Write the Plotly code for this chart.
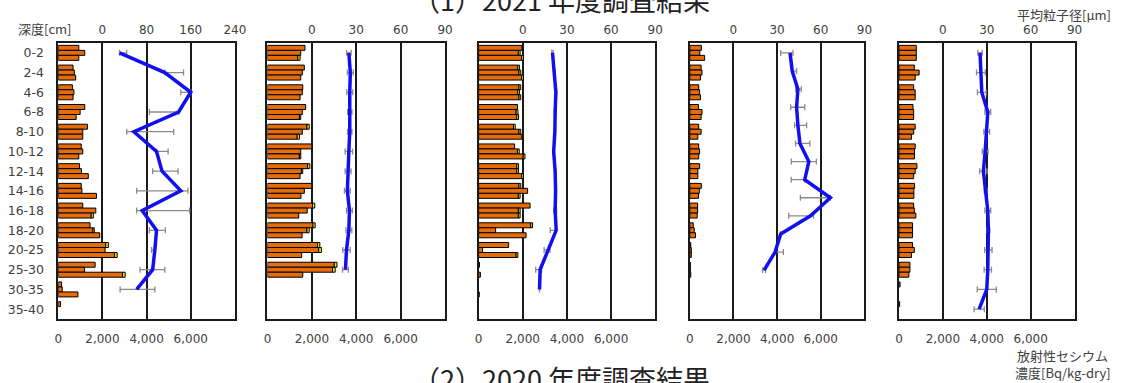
import plotly.graph_objects as go

W, H = 1129, 383

depths = ["0-2", "2-4", "4-6", "6-8", "8-10", "10-12", "12-14", "14-16",
          "16-18", "18-20", "20-25", "25-30", "30-35", "35-40"]

# ---- radiocesium concentration [Bq/kg-dry], three replicate cores per depth
# orange = main part, yellow = small end segment
p1_r1 = [930, 670, 640, 1200, 1320, 1040, 960, 1040, 1110, 1440, 2150, 1670, 150, 100]
p1_r2 = [1200, 730, 710, 990, 1110, 1110, 1050, 1070, 1700, 1570, 2120, 1190, 180, None]
p1_r3 = [930, 790, 670, 810, 1110, 930, 1360, 1730, 1490, 1880, 2550, 2910, 890, None]
p1_y1 = [None, None, None, None, None, None, None, None, None, None, 120, None, None, None]
p1_y2 = [None, None, None, None, None, None, None, None, None, 60, None, None, None, None]
p1_y3 = [None, None, None, None, None, None, None, None, 100, None, 120, 120, None, None]

p2_r1 = [1690, 1660, 1590, 1720, 1780, 2000, 1810, 2000, 2030, 2050, 2260, 3010, None, None]
p2_r2 = [1500, 1570, 1570, 1570, 1570, 1500, 1530, 1660, 1790, 1780, 2310, 2930, None, None]
p2_r3 = [1370, 1500, 1470, 1440, 1340, 1440, 1470, 1510, 1410, 1560, 1540, 1590, None, None]
p2_y1 = [None, None, None, None, 100, None, 100, None, 100, 100, 100, 120, None, None]
p2_y2 = [None, None, None, None, None, None, 60, None, None, 100, 120, 120, None, None]
p2_y3 = [100, None, None, 60, 100, 60, None, None, None, None, None, None, None, None]

p3_r1 = [1960, 1770, 1830, 1760, 1580, 1630, 1730, 1830, 2330, 2360, 1360, 40, None, None]
p3_r2 = [1800, 1830, 1770, 1700, 1830, 1760, 1730, 2220, 1800, 770, 180, None, None, None]
p3_r3 = [1950, 1950, 1830, 1730, 1960, 2020, 1950, 1800, 1800, 2150, 1700, 80, 30, None]
p3_y1 = [None, 80, 80, None, 80, None, 80, 80, None, 80, None, None, None, None]
p3_y2 = [80, 80, 80, 80, 80, 80, 80, None, 80, None, None, None, None, None]
p3_y3 = [80, 80, 80, 80, None, 80, 80, 80, 80, None, 80, None, None, None]

p4_r1 = [530, 520, 410, 400, 410, 410, 450, 530, 360, 160, 45, 25, None, None]
p4_r2 = [460, 560, 450, 560, 520, 450, 370, 440, 360, 205, 70, 25, None, None]
p4_r3 = [680, 490, 490, 520, 370, 410, 370, 400, 340, 265, 70, 45, None, None]

p5_r1 = [790, 700, 670, 640, 740, 740, 820, 710, 670, 620, 620, 500, 50, 30]
p5_r2 = [790, 920, 740, 670, 670, 710, 740, 680, 700, 620, 700, 500, None, None]
p5_r3 = [790, 740, 740, 670, 570, 710, 670, 680, 770, 620, 570, 450, None, None]

# ---- mean particle size [um] with error whiskers
p1_size = [31, 113, 160, 138, 57, 98, 108, 142, 72, 98, 95, 91, 62]
p1_plus = [13, 34, 0, 0, 72, 21, 29, 13, 86, 16, 0, 22, 33]
p1_minus = [0, 0, 18, 53, 13, 0, 17, 80, 10, 13, 6, 23, 30]

p2_size = [25, 26, 25.6, 25.6, 25.6, 25, 24.5, 24, 25.4, 25, 23.4, 22.7]
p2_err = [1.5, 2, 2, 1.5, 1.5, 2.5, 2, 2, 2, 2, 2.5, 2]

p3_size = [20.2, 21.6, 22.5, 22, 21.8, 21, 22, 22.3, 22, 22.7, 17.5, 11.8, 11.4]
p3_plus = [0.5, 0.5, 0.5, 0.5, 0.5, 0.5, 0.5, 0.5, 1, 0, 1, 1, 0]
p3_minus = [0.5, 0.5, 0.5, 0.5, 0.5, 0.5, 0.5, 0.5, 1, 4, 3, 3, 0]

p4_size = [38.9, 40.4, 44.3, 43.4, 44.3, 45.7, 51.8, 49, 66.6, 53, 32.5, 28.6, 21.1]
p4_plus = [2, 3, 2.3, 5.6, 6, 6.8, 5.2, 0, 0, 2, 0, 5.7, 1]
p4_minus = [6.4, 0, 1.6, 4.1, 2.3, 3, 12, 9.3, 20.6, 15, 0, 0, 1]

p5_size = [25.4, 26, 26.6, 30.7, 30, 28.9, 27.7, 29.3, 30.7, 31.1, 31.1, 30.7, 30, 24.8]
p5_err = [1.5, 3, 3, 2, 2, 2, 2.5, 1, 2, 1, 2.5, 2.5, 6.5, 3.5]

conc_ticks = [0, 2000, 4000, 6000]
size_ticks_1 = [0, 80, 160, 240]
size_ticks = [0, 30, 60, 90]

ORANGE = "#E46C0A"
YELLOW = "#F2E600"
BLUE = "#1010F0"
GRAY = "#8A8A8A"
TXT = "#404040"
TICKFONT = dict(family="DejaVu Sans", size=12, color=TXT)

panels_px = [(55, 234), (267, 447), (481, 660), (695, 872), (907, 1085)]
ydom = [1 - 319 / H, 1 - 43 / H]

bars = [
    ([p1_r1, p1_r2, p1_r3], [p1_y1, p1_y2, p1_y3]),
    ([p2_r1, p2_r2, p2_r3], [p2_y1, p2_y2, p2_y3]),
    ([p3_r1, p3_r2, p3_r3], [p3_y1, p3_y2, p3_y3]),
    ([p4_r1, p4_r2, p4_r3], [None, None, None]),
    ([p5_r1, p5_r2, p5_r3], [None, None, None]),
]
lines = [
    (p1_size, p1_plus, p1_minus),
    (p2_size, p2_err, p2_err),
    (p3_size, p3_plus, p3_minus),
    (p4_size, p4_plus, p4_minus),
    (p5_size, p5_err, p5_err),
]

fig = go.Figure()
layout = {}

for k in range(5):
    a, b = 2 * k + 1, 2 * k + 2
    xa = "x" if a == 1 else f"x{a}"
    ya = "y" if a == 1 else f"y{a}"
    xb = f"x{b}"
    reps, yel = bars[k]
    for j in range(3):
        fig.add_trace(go.Bar(
            x=reps[j], y=depths, orientation="h", xaxis=xa, yaxis=ya,
            offsetgroup=str(j), marker=dict(color=ORANGE, line=dict(color="black", width=1)),
            showlegend=False, hoverinfo="skip"))
        if yel[j] is not None:
            base = [r if r is not None else 0 for r in reps[j]]
            fig.add_trace(go.Bar(
                x=yel[j], y=depths, base=base, orientation="h", xaxis=xa, yaxis=ya,
                offsetgroup=str(j), marker=dict(color=YELLOW, line=dict(color="black", width=1)),
                showlegend=False, hoverinfo="skip"))
    size, plus, minus = lines[k]
    yl = "y11" if k == 3 else ya
    fig.add_trace(go.Scatter(
        x=size, y=depths[:len(size)], xaxis=xb, yaxis=yl, mode="lines",
        line=dict(color=BLUE, width=3.5),
        error_x=dict(type="data", symmetric=False, array=plus, arrayminus=minus,
                     color=GRAY, thickness=1.3, width=3),
        showlegend=False, hoverinfo="skip"))

    x0, x1 = panels_px[k]
    layout[f"xaxis{a}" if a > 1 else "xaxis"] = dict(
        domain=[x0 / W, x1 / W], anchor=ya, range=[0, 8000],
        tickvals=conc_ticks, tickformat=",", tickfont=TICKFONT,
        showgrid=True, gridcolor="#1a1a1a", gridwidth=1.5,
        showline=True, linecolor="#1a1a1a", linewidth=1.5, mirror=True,
        zeroline=False, ticks="", ticklabelstandoff=8)
    layout[f"yaxis{a}" if a > 1 else "yaxis"] = dict(
        domain=ydom, anchor=xa, type="category", categoryorder="array",
        categoryarray=depths, range=[13.5, -0.5],
        showline=True, linecolor="#1a1a1a", linewidth=1.5, mirror=True,
        showgrid=False, zeroline=False, ticks="",
        showticklabels=(k == 0),
        tickfont=dict(family="DejaVu Sans", size=12.5, color=TXT),
        ticklabelstandoff=10)
    layout[f"xaxis{b}"] = dict(
        overlaying=xa, anchor=ya, side="top",
        range=[-80, 240] if k == 0 else [-30, 90],
        tickvals=size_ticks_1 if k == 0 else size_ticks,
        tickfont=TICKFONT, showgrid=False, showline=False, zeroline=False,
        ticks="", ticklabelstandoff=6)

layout["yaxis11"] = dict(
    overlaying="y7", anchor="x8", type="category", categoryorder="array",
    categoryarray=depths, range=[14.7, -0.55], visible=False)

annotations = [
    dict(text="深度[cm]", x=12 / W, y=1 - 28 / H, xanchor="left", yanchor="middle",
         font=dict(family="Noto Sans CJK JP", size=13, color=TXT)),
    dict(text="平均粒子径[μm]", x=1124 / W, y=1 - 15 / H, xanchor="right", yanchor="middle",
         font=dict(family="Noto Sans CJK JP", size=13, color=TXT)),
    dict(text="放射性セシウム", x=1121 / W, y=1 - 355 / H, xanchor="right", yanchor="middle",
         font=dict(family="Noto Sans CJK JP", size=13, color=TXT)),
    dict(text="濃度[Bq/kg-dry]", x=1124 / W, y=1 - 372 / H, xanchor="right", yanchor="middle",
         font=dict(family="Noto Sans CJK JP", size=13, color=TXT)),
    dict(text="（1）2021 年度調査結果", x=565 / W, y=1 + 0.5 / H, xanchor="center", yanchor="middle",
         font=dict(family="Noto Sans CJK JP", size=27, color="#222222")),
    dict(text="（2）2020 年度調査結果", x=565 / W, y=1 - 378 / H, xanchor="center", yanchor="middle",
         font=dict(family="Noto Sans CJK JP", size=27, color="#222222")),
]
for an in annotations:
    an.update(xref="paper", yref="paper", showarrow=False)

fig.update_layout(
    width=W, height=H, margin=dict(l=0, r=0, t=0, b=0),
    paper_bgcolor="white", plot_bgcolor="white",
    barmode="group", bargap=0.24, bargroupgap=0,
    annotations=annotations, **layout)

fig.write_html("out.html", config={"displayModeBar": False},
               post_script="document.body.style.margin='0';")
